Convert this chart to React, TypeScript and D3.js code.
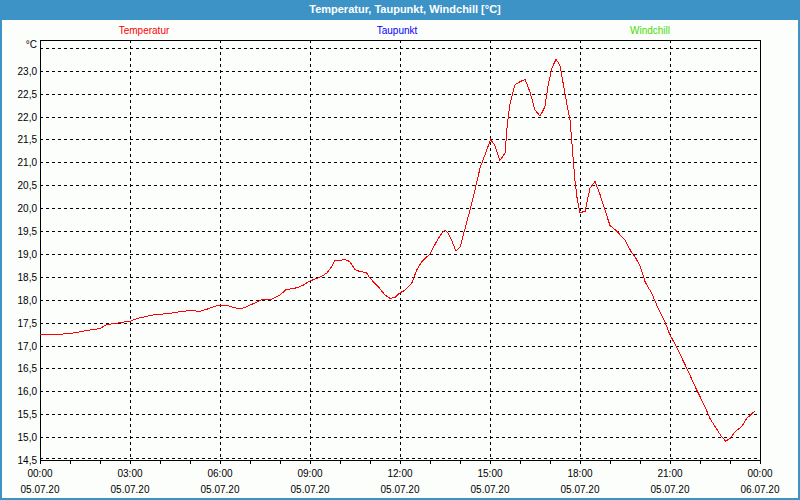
import React from "react";
import * as d3 from "d3";

const hours = [0.0,0.75,1.2,1.5,2.0,2.2,2.67,3.0,3.3,3.8,4.3,4.7,5.1,5.3,5.6,5.9,6.2,6.4,6.6,6.8,7.0,7.4,7.7,8.0,8.2,8.56,8.78,9.0,9.33,9.56,9.72,9.83,10.0,10.17,10.33,10.5,10.67,10.87,11.0,11.28,11.5,11.67,11.83,12.0,12.17,12.39,12.56,12.72,13.0,13.22,13.39,13.5,13.61,13.72,13.86,14.0,14.17,14.33,14.5,14.67,14.83,15.02,15.17,15.33,15.5,15.58,15.67,15.83,16.0,16.17,16.33,16.5,16.67,16.83,16.94,17.06,17.2,17.33,17.44,17.58,17.67,17.74,17.83,17.91,18.0,18.17,18.33,18.5,18.67,18.83,19.0,19.22,19.5,19.72,19.83,20.0,20.17,20.39,20.56,20.83,21.0,21.22,21.56,21.89,22.17,22.33,22.56,22.72,22.86,23.0,23.17,23.39,23.56,23.83];
const temperature = [17.25,17.25,17.28,17.32,17.37,17.45,17.5,17.53,17.6,17.67,17.7,17.74,17.77,17.74,17.8,17.87,17.88,17.84,17.81,17.82,17.88,18.0,18.0,18.1,18.22,18.26,18.32,18.41,18.49,18.58,18.72,18.86,18.86,18.88,18.83,18.66,18.61,18.6,18.47,18.28,18.1,18.03,18.05,18.15,18.21,18.36,18.65,18.83,19.0,19.27,19.45,19.52,19.45,19.3,19.07,19.14,19.56,19.95,20.4,20.88,21.16,21.5,21.36,21.04,21.2,21.85,22.29,22.69,22.76,22.81,22.54,22.14,22.01,22.21,22.69,23.05,23.25,23.12,22.72,22.21,21.92,21.34,20.61,20.18,19.9,19.93,20.43,20.58,20.29,19.96,19.62,19.5,19.3,19.03,18.94,18.74,18.39,18.14,17.88,17.52,17.23,16.97,16.5,16.03,15.66,15.41,15.17,15.01,14.91,14.97,15.12,15.23,15.41,15.57];

const yTicks = [14.5,15.0,15.5,16.0,16.5,17.0,17.5,18.0,18.5,19.0,19.5,20.0,20.5,21.0,21.5,22.0,22.5,23.0];
const yGrid = [15.0,15.5,16.0,16.5,17.0,17.5,18.0,18.5,19.0,19.5,20.0,20.5,21.0,21.5,22.0,22.5,23.0,23.5];
const xTimeLabels = ["00:00","03:00","06:00","09:00","12:00","15:00","18:00","21:00","00:00"];
const xDateLabels = ["05.07.20","05.07.20","05.07.20","05.07.20","05.07.20","05.07.20","05.07.20","05.07.20","06.07.20"];
const legendNames = ["Temperatur","Taupunkt","Windchill"];
const legendColors = ["#ff0000","#0000ff","#44dd00"];

const W = 800, H = 500;
const L = 40, R = 760, T = 40, B = 460;
const font = "'Liberation Sans', Arial, sans-serif";

export default function App() {
  const x = d3.scaleLinear().domain([0, 24]).range([L, R]);
  const y = d3.scaleLinear().domain([14.5, 23.0]).range([B, 70.7]);
  const line = d3.line<number>().x((_, i) => x(hours[i])).y((d) => y(d));
  const hourTicks = d3.range(0, 25);
  const majorTicks = d3.range(0, 25, 3);
  const legendX = [144, 397, 650];

  return (
    <svg width={W} height={H} style={{ position: "absolute", left: 0, top: 0 }} fontFamily={font}>
      <rect x={0} y={0} width={W} height={H} fill="#3d92c6" />
      <rect x={2} y={20} width={W - 4} height={H - 22} fill="#fcfefc" />
      <text x={405} y={13} fill="#ffffff" fontSize={11} fontWeight="bold" textAnchor="middle">
        Temperatur, Taupunkt, Windchill [°C]
      </text>
      {legendNames.map((n, i) => (
        <text key={n} x={legendX[i]} y={34} fill={legendColors[i]} fontSize={10} textAnchor="middle">{n}</text>
      ))}
      {/* grid */}
      <g stroke="#000" strokeWidth={1} strokeDasharray="3,3" shapeRendering="crispEdges">
        {yGrid.map((v) => (
          <line key={v} x1={L} x2={R} y1={Math.round(y(v)) + 0.5} y2={Math.round(y(v)) + 0.5} />
        ))}
        <line x1={L} x2={R} y1={B - 1.5} y2={B - 1.5} />
        {majorTicks.slice(1, -1).map((h) => (
          <line key={h} x1={Math.round(x(h)) + 0.5} x2={Math.round(x(h)) + 0.5} y1={T} y2={B} />
        ))}
      </g>
      {/* frame */}
      <g stroke="#000" strokeWidth={1} shapeRendering="crispEdges" fill="none">
        <rect x={L + 0.5} y={T + 0.5} width={R - L} height={B - T} />
        {hourTicks.map((h) => (
          <line key={h} x1={Math.round(x(h)) + 0.5} x2={Math.round(x(h)) + 0.5} y1={B} y2={B + 4} />
        ))}
      </g>
      {/* y labels */}
      {yTicks.map((v) => (
        <text key={v} x={37} y={y(v) + 4} fontSize={10} textAnchor="end" fill="#000">
          {v.toFixed(1).replace(".", ",")}
        </text>
      ))}
      <text x={37} y={48} fontSize={10} textAnchor="end" fill="#000">°C</text>
      {/* x labels */}
      {majorTicks.map((h, i) => (
        <g key={h}>
          <text x={x(h)} y={477} fontSize={10} textAnchor="middle" fill="#000">{xTimeLabels[i]}</text>
          <text x={x(h)} y={493} fontSize={10} textAnchor="middle" fill="#000">{xDateLabels[i]}</text>
        </g>
      ))}
      <path d={line(temperature) || ""} fill="none" stroke="#ff0000" strokeWidth={1} shapeRendering="crispEdges" />
    </svg>
  );
}
